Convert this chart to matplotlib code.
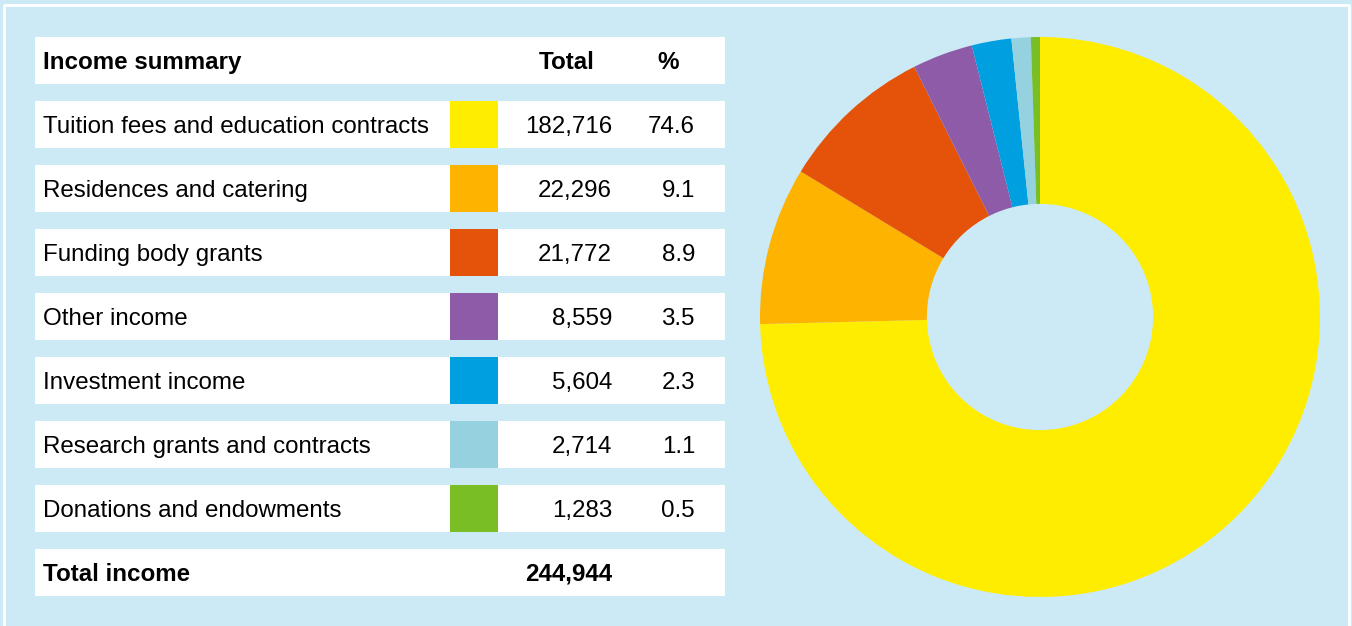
import matplotlib.pyplot as plt
from matplotlib.patches import Rectangle

# data
categories = ['Tuition fees and education contracts', 'Residences and catering',
              'Funding body grants', 'Other income', 'Investment income',
              'Research grants and contracts', 'Donations and endowments']
totals = [182716, 22296, 21772, 8559, 5604, 2714, 1283]
percents = ['74.6', '9.1', '8.9', '3.5', '2.3', '1.1', '0.5']
total_income = '244,944'
colors = ['#FFED00', '#FDB300', '#E5530A', '#8E5BA8', '#009FE0', '#96D1E0', '#7ABE26']

bg = '#CBEAF6'
plt.rcParams['font.family'] = ['Liberation Sans', 'DejaVu Sans']

fig = plt.figure(figsize=(13.52, 6.26), dpi=100)
fig.patch.set_facecolor(bg)

# table drawn in pixel coordinates
ax = fig.add_axes([0, 0, 1, 1])
ax.set_xlim(0, 1352)
ax.set_ylim(626, 0)
ax.axis('off')

# white frame line
ax.plot([4, 4, 1348.5, 1348.5], [626, 5, 5, 626], color='white', lw=2, solid_capstyle='butt')

fs = 17.4
row_top = 37
row_h = 47
step = 64
base = 8.5  # baseline offset below row centre

def row_box(y):
    ax.add_patch(Rectangle((35, y), 690, row_h, facecolor='white', edgecolor='none'))

# header
row_box(row_top)
yb = row_top + row_h / 2 + base
ax.text(43, yb, 'Income summary', fontsize=fs, fontweight='bold', va='baseline', ha='left')
ax.text(567, yb, 'Total', fontsize=fs, fontweight='bold', va='baseline', ha='center')
ax.text(668, yb, '%', fontsize=fs, fontweight='bold', va='baseline', ha='center')

for i, (cat, val, pct, col) in enumerate(zip(categories, totals, percents, colors)):
    y = row_top + step * (i + 1)
    row_box(y)
    ax.add_patch(Rectangle((450, y), 48, row_h, facecolor=col, edgecolor='none'))
    yb = y + row_h / 2 + base
    ax.text(43, yb, cat, fontsize=fs, va='baseline', ha='left')
    ax.text(612, yb, f'{val:,}', fontsize=fs, va='baseline', ha='right')
    ax.text(695, yb, pct, fontsize=fs, va='baseline', ha='right')

y = row_top + step * (len(categories) + 1)
row_box(y)
yb = y + row_h / 2 + base
ax.text(43, yb, 'Total income', fontsize=fs, fontweight='bold', va='baseline', ha='left')
ax.text(612, yb, total_income, fontsize=fs, fontweight='bold', va='baseline', ha='right')

# donut
pax = fig.add_axes([760 / 1352, (626 - 597) / 626, 560 / 1352, 560 / 626])
pax.pie(totals, colors=colors, startangle=90, counterclock=False, radius=1,
        wedgeprops=dict(width=0.596, edgecolor='none'))
pax.set_xlim(-1, 1)
pax.set_ylim(-1, 1)
pax.set_aspect('equal')
pax.axis('off')

fig.savefig('out.png', dpi=100, facecolor=bg)
